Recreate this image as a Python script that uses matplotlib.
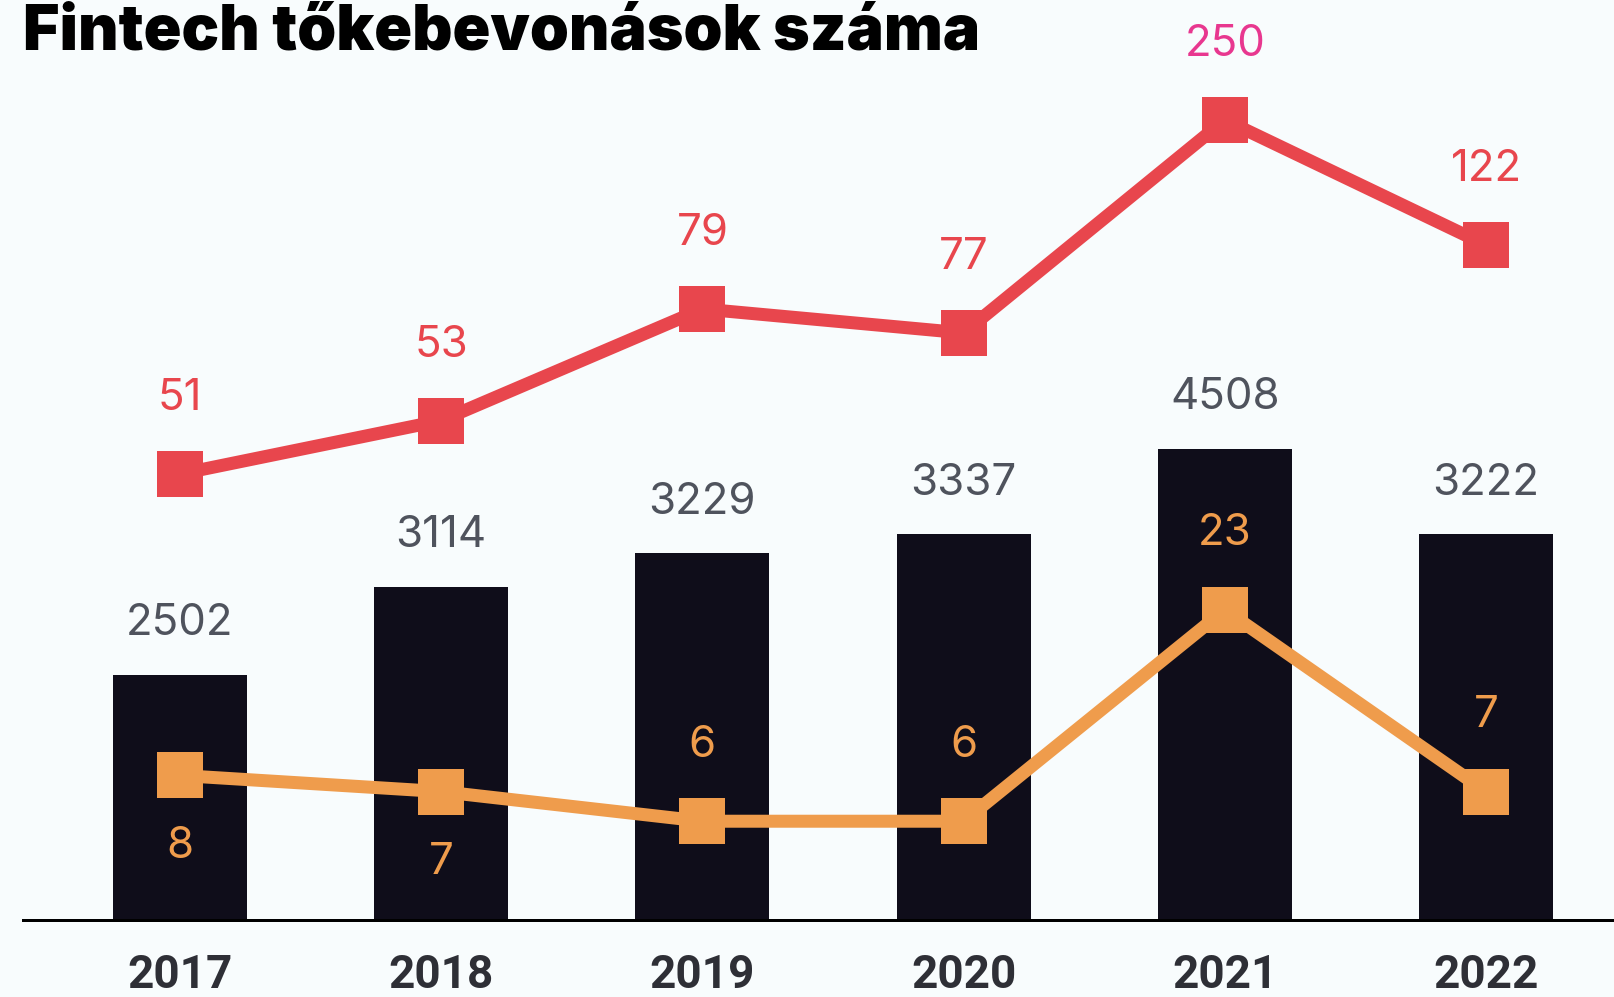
import matplotlib
matplotlib.use("Agg")
import matplotlib.pyplot as plt

# Data
years = ["2017", "2018", "2019", "2020", "2021", "2022"]
deals = [2502, 3114, 3229, 3337, 4508, 3222]          # bar labels
deals_drawn = [2343, 3186, 3511, 3693, 4508, 3693]    # bar heights as drawn in the picture
red_values = [51, 53, 79, 77, 250, 122]
red_drawn = [139.3, 156.0, 190.9, 183.4, 250, 210.9]
orange_values = [8, 7, 6, 6, 23, 7]
orange_drawn = [10.7, 9.5, 7.3, 7.3, 23, 9.5]
orange_label_below = [True, True, False, False, False, False]

bg = "#f8fcfd"
bar_color = "#0f0d1a"
red = "#e8464d"
pink = "#e8378f"
orange = "#ef9c4c"
grey = "#4f535d"
dark = "#2e2f36"

W, H = 1614, 997
px = 72 / 100  # points per pixel at dpi 100
label_font = "Inter"

fig = plt.figure(figsize=(W / 100, H / 100), dpi=100, facecolor=bg)
ax = fig.add_axes([23 / W, 77.5 / H, 1 - 23 / W, 919.5 / H])
ax.set_facecolor(bg)

x = list(range(len(years)))
ax.bar(x, deals_drawn, width=0.513, color=bar_color, zorder=1)
ax.set_xlim(-0.601, 5.490)
ax.set_ylim(0, 8810)
for s in ["top", "right", "left"]:
    ax.spines[s].set_visible(False)
ax.spines["bottom"].set_linewidth(3 * px)
ax.spines["bottom"].set_color("black")
ax.spines["bottom"].set_zorder(3)
ax.set_yticks([])
ax.set_xticks([])

for i, v in enumerate(deals):
    ax.annotate(str(v), (i, deals_drawn[i]), xytext=(0, 39.5 * px),
                textcoords="offset points", ha="center", va="baseline",
                fontsize=31.5, family=label_font, color=grey)
    ax.annotate(years[i], (i, 0), xycoords=("data", "axes fraction"),
                xytext=(0, -68 * px), textcoords="offset points",
                ha="center", va="baseline", fontsize=33, family="Roboto",
                fontweight="bold", color=dark)

# red series
axr = ax.twinx()
axr.set_ylim(0, 287.5)
axr.axis("off")
axr.plot(x, red_drawn, color=red, lw=13 * px, marker="s", ms=46 * px,
         markeredgewidth=0, solid_joinstyle="miter")
for i, v in enumerate(red_values):
    axr.annotate(str(v), (i, red_drawn[i]), xytext=(0, 63.5 * px),
                 textcoords="offset points", ha="center", va="baseline",
                 fontsize=31.5, family=label_font,
                 color=pink if v == max(red_values) else red)

# orange series
axo = ax.twinx()
axo.set_ylim(0, 68.3)
axo.axis("off")
axo.plot(x, orange_drawn, color=orange, lw=13 * px, marker="s", ms=46 * px,
         markeredgewidth=0, solid_joinstyle="miter")
for i, v in enumerate(orange_values):
    dy = -82.5 if orange_label_below[i] else 64.5
    axo.annotate(str(v), (i, orange_drawn[i]), xytext=(0, dy * px),
                 textcoords="offset points", ha="center", va="baseline",
                 fontsize=31.5, family=label_font, color=orange)

fig.text(23 / W, (H - 49) / H, "Fintech tőkebevonások száma", ha="left",
         va="baseline", fontsize=45, family="Inter", fontweight="black",
         color="black")

fig.savefig("out.png", dpi=100, facecolor=bg)
